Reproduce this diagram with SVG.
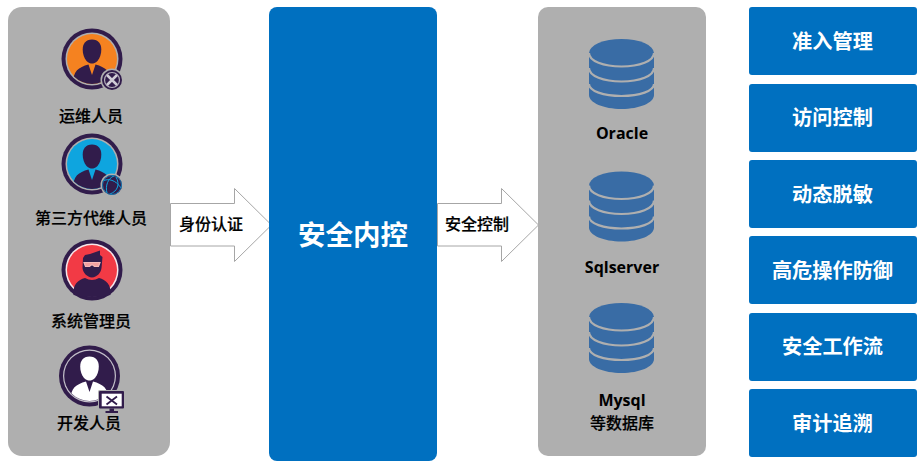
<svg xmlns="http://www.w3.org/2000/svg" xmlns:xlink="http://www.w3.org/1999/xlink" width="923" height="465" viewBox="0 0 923 465">
<style>
text{font-family:"Noto Sans CJK SC","Open Sans",sans-serif;text-anchor:middle}
.panel{fill:#afafaf}
.blue{fill:#0070c0}
.lab{font-size:16px;font-weight:500;fill:#000;stroke:#000;stroke-width:.2}
.db{font-family:"Open Sans","Noto Sans CJK SC",sans-serif;font-size:16px;font-weight:700;fill:#000}
.box{font-size:20.200px;font-weight:700;fill:#fff}
.arrow{fill:#fff;stroke:#a6a6a6;stroke-width:1}
.dark{fill:#311c4b}
.band{fill:none;stroke:#afafaf;stroke-width:2.200}
</style>
<defs>
<g id="dbicon">
<path d="M-32.500 14V56C-32.500 63.700-18 70-0 70S32.500 63.700 32.500 56V14Z" fill="#396ca5"/>
<ellipse cx="0" cy="14" rx="32.500" ry="14" fill="#396ca5"/>
<path class="band" d="M-32.500 14C-32.500 22-18 27.500 0 27.500S32.500 22 32.500 14"/>
<path class="band" d="M-32.500 29C-32.500 37-18 42.500 0 42.500S32.500 37 32.500 29"/>
<path class="band" d="M-32.500 45C-32.500 52-18 57 0 57S32.500 52 32.500 45"/>
</g>
<clipPath id="ci"><circle r="25"/></clipPath>
<g id="person">
<path d="M0-19.500C6.500-19.500 9.300-15 9.300-9.500 9.300-5 8-1 5.500 2 3.500 4.200 1.500 4.500 0 4.500S-3.500 4.200-5.500 2C-8-1-9.300-5-9.300-9.500-9.300-15-6.500-19.500 0-19.500Z"/>
<path d="M-19 27C-19.500 12-14 8.500-3.500 5.500L0 16 3.500 5.500C14 8.500 19.500 12 19 27Z"/>
</g>
</defs>
<g id="users">
<rect class="panel" x="8" y="7" width="162" height="449" rx="14"/>
</g>
<g id="icon-ops">
<circle class="dark" cx="92" cy="59" r="30.500"/>
<circle cx="92" cy="59" r="26.500" fill="#afafaf"/>
<circle cx="92" cy="59" r="25" fill="#f58220"/>
<g transform="translate(92 59)" clip-path="url(#ci)" class="dark"><use xlink:href="#person"/></g>
<circle cx="112" cy="80" r="11.500" fill="#afafaf"/>
<circle class="dark" cx="112" cy="80" r="10"/>
<circle cx="112" cy="80" r="7.500" fill="none" stroke="#b5b0bc" stroke-width="1.200"/>
<path d="M107 75L117 85M117 75L107 85" stroke="#d0ccd6" stroke-width="2.500"/>
<text class="lab" x="91" y="122">运维人员</text>
</g>
<g id="icon-third">
<circle class="dark" cx="92" cy="164" r="30.500"/>
<circle cx="92" cy="164" r="26.500" fill="#afafaf"/>
<circle cx="92" cy="164" r="25" fill="#0ea5df"/>
<g transform="translate(92 164)" clip-path="url(#ci)" class="dark"><use xlink:href="#person"/></g>
<circle cx="112" cy="185" r="11.500" fill="#afafaf"/>
<circle class="dark" cx="112" cy="185" r="10"/>
<path d="M103 181C108 178 116 180 121 188M107 193C105 186 108 178 114 176M110 194C118 191 120 184 116 177" fill="none" stroke="#0ea5df" stroke-width="1"/>
<circle cx="112" cy="185" r="9.500" fill="none" stroke="#1678b0" stroke-width="1"/>
<text class="lab" x="91" y="224">第三方代维人员</text>
</g>
<g id="icon-admin">
<circle class="dark" cx="92" cy="270" r="30.500"/>
<circle cx="92" cy="270" r="26.500" fill="#f6e6ea"/>
<circle cx="92" cy="270" r="25" fill="#f23a45"/>
<g class="dark">
<path d="M85 255L90 254 100 250.500 100 255 102.500 257 101.500 268C101 273 97 277 92 277.500 87 277 83 273 82.500 268L83 258Z"/>
<path d="M73.500 295C72.500 285 78 279.500 85 278Q92 282 99 278C106 279.500 111.500 285 110.500 295Q92 299 73.500 295Z"/>
</g>
<path d="M84 262.500H100L98.500 266.500H94.500L92 264.500 89.500 266.500H85.500Z" fill="#f2a0a0" stroke="#f7b9b9" stroke-width="1.200"/>
<text class="lab" x="91" y="327">系统管理员</text>
</g>
<g id="icon-dev">
<circle class="dark" cx="89.500" cy="376" r="30.500"/>
<circle cx="89.500" cy="376" r="26.500" fill="#c4c0ca"/>
<circle class="dark" cx="89.500" cy="376" r="25.300"/>
<g transform="translate(89.500 376)" clip-path="url(#ci)" fill="#fff"><use xlink:href="#person"/></g>
<rect x="98" y="390" width="27" height="19" rx="1.500" fill="#afafaf"/>
<rect x="99" y="391" width="25" height="17.500" rx="1" class="dark"/>
<rect x="101.700" y="393.700" width="20" height="12.600" fill="#fff"/>
<path d="M109.500 408.500H114V411H118V413H105.500V411H109.500Z" class="dark"/>
<path d="M106.500 396.500L117 404.500M117 396.500L106.500 404.500" stroke="#311c4b" stroke-width="1.800"/>
<text class="lab" x="89" y="429">开发人员</text>
</g>
<g id="connectors">
<path class="arrow" d="M170.500 203.500H234.500V188.500L271.500 225 234.500 261.500V246H170.500Z"/>
<path class="arrow" d="M437.500 203.500H501.500V188.500L538.500 225 501.500 261.500V246H437.500Z"/>
<text class="lab" x="211" y="230">身份认证</text>
<text class="lab" x="477" y="230">安全控制</text>
</g>
<g id="core">
<rect class="blue" x="269" y="7" width="168" height="454" rx="8"/>
<text x="353" y="244.500" font-size="27.500" font-weight="700" fill="#fff">安全内控</text>
</g>
<g id="databases">
<rect class="panel" x="538" y="7" width="168" height="449" rx="10"/>
</g>
<g id="db-oracle">
<use xlink:href="#dbicon" transform="translate(621.500 39)"/>
<text class="db" x="622" y="139">Oracle</text>
</g>
<g id="db-sqlserver">
<use xlink:href="#dbicon" transform="translate(621.500 171.500)"/>
<text class="db" x="622" y="273">Sqlserver</text>
</g>
<g id="db-mysql">
<use xlink:href="#dbicon" transform="translate(621.500 303)"/>
<text class="db" x="622" y="405.500">Mysql</text>
<text class="lab" x="622" y="429">等数据库</text>
</g>
<g id="f1"><rect class="blue" x="749" y="7" width="168" height="68" rx="3"/><text class="box" x="832.500" y="49">准入管理</text></g>
<g id="f2"><rect class="blue" x="749" y="84" width="168" height="68" rx="3"/><text class="box" x="832.500" y="125">访问控制</text></g>
<g id="f3"><rect class="blue" x="749" y="160" width="168" height="68" rx="3"/><text class="box" x="832.500" y="202">动态脱敏</text></g>
<g id="f4"><rect class="blue" x="749" y="236" width="168" height="68" rx="3"/><text class="box" x="832.500" y="278">高危操作防御</text></g>
<g id="f5"><rect class="blue" x="749" y="313" width="168" height="68" rx="3"/><text class="box" x="832.500" y="354">安全工作流</text></g>
<g id="f6"><rect class="blue" x="749" y="389" width="168" height="68" rx="3"/><text class="box" x="832.500" y="431">审计追溯</text></g>
</svg>
